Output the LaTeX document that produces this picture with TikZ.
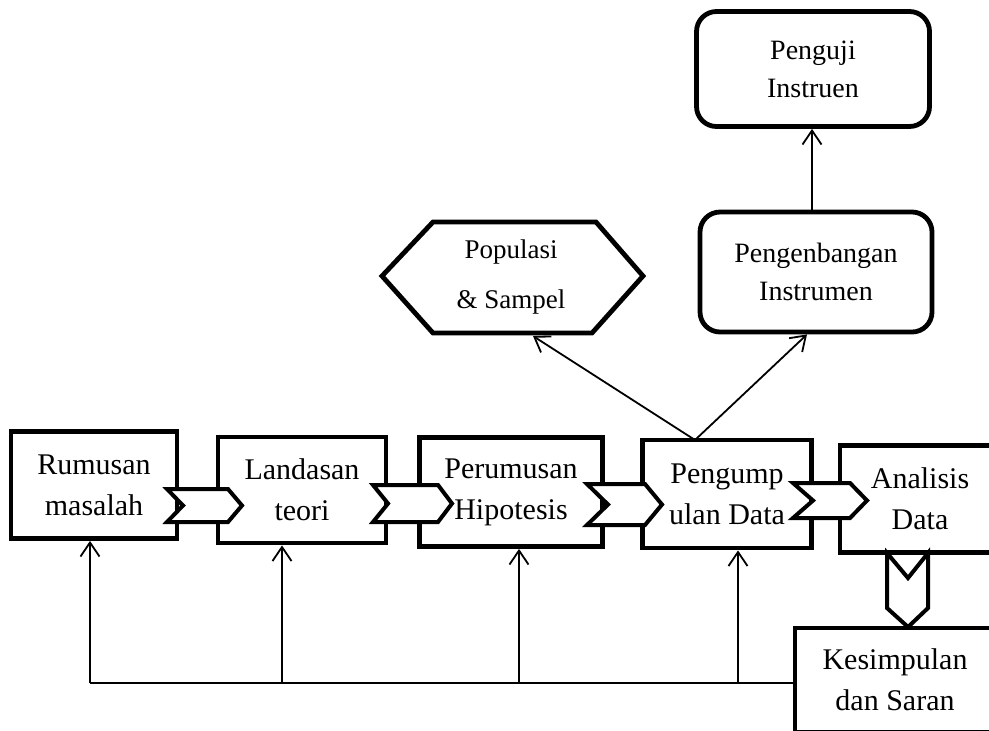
\documentclass[tikz,border=0pt]{standalone}
\usepackage{fontspec}
\setmainfont{Liberation Serif}
\usetikzlibrary{arrows.meta}

\tikzset{
  kotak/.style={draw, line width=2.4pt, align=center, font=\fontsize{15}{20.5}\selectfont},
  kotakbulat/.style={draw, line width=2.4pt, rounded corners=10pt, align=center, font=\fontsize{14}{19}\selectfont},
  panah/.style={-{Straight Barb[length=7pt,width=9.5pt]}, line width=0.9pt},
  garis/.style={line width=0.9pt},
  chevron/.style={draw, fill=white, line width=2pt, line join=miter}
}

\begin{document}
\begin{tikzpicture}[x=0.5pt, y=-0.5pt]
\useasboundingbox (0,0) rectangle (989,730);
\clip (0,0) rectangle (989,730);

% Alur utama
\node[kotak, minimum width=83pt, minimum height=53.5pt] (rumusan) at (94,485) {Rumusan\\masalah};
\node[kotak, minimum width=84pt, minimum height=53pt] (landasan) at (302,490) {Landasan\\teori};
\node[kotak, minimum width=91.5pt, minimum height=54.5pt] (perumusan) at (511,492) {Perumusan\\Hipotesis};
\node[kotak, minimum width=84.5pt, minimum height=54pt] (pengumpulan) at (727,494) {Pengump\\ulan Data};
\node[kotak, minimum width=80pt, minimum height=53.5pt] (analisis) at (920,499) {Analisis\\Data};
\node[kotak, minimum width=100pt, minimum height=52pt] (kesimpulan) at (895,680) {Kesimpulan\\dan Saran};

% Kotak atas
\node[kotakbulat, minimum width=116pt, minimum height=60pt] (pengenbangan) at (816,272) {Pengenbangan\\Instrumen};
\node[kotakbulat, minimum width=116.5pt, minimum height=57.5pt] (penguji) at (813,69) {Penguji\\Instruen};

% Segi enam populasi
\draw[line width=2.4pt, line join=miter] (382,276) -- (433,222) -- (596,222) -- (643,276) -- (592,333) -- (433,333) -- cycle;
\node[font=\fontsize{13.5}{25}\selectfont, align=center] (populasi) at (511,277) {Populasi\\\& Sampel};

% Panah ke atas
\coordinate (cabang) at (695,440);
\coordinate (hexbawah) at (533,336);
\coordinate (kanan) at (812,0);
\draw[panah] (cabang) -- (hexbawah);
\draw[panah] (cabang) -- ([xshift=-4.5pt]pengenbangan.south);
\draw[panah] (pengenbangan.north -| kanan) -- (penguji.south -| kanan);

% Umpan balik
\coordinate (b1) at (90,683);
\coordinate (b2) at (282,683);
\coordinate (b3) at (519,683);
\coordinate (b4) at (738,683);
\draw[garis] (b1) -- (kesimpulan.west |- b1);
\draw[panah] (b1) -- (b1 |- rumusan.south);
\draw[panah] (b2) -- (b2 |- landasan.south);
\draw[panah] (b3) -- (b3 |- perumusan.south);
\draw[panah] (b4) -- (b4 |- pengumpulan.south);

% Chevron antar kotak
\foreach \L/\R/\T/\B/\n/\p in {167/242/489/522/16/14, 373/452/485/522/15/14,
                               587/662/484/525/21/17, 793/867/483/518/20/17}
  \draw[chevron] (\L,\T) -- ({\R-\p},\T) -- (\R,{(\T+\B)/2}) -- ({\R-\p},\B)
    -- (\L,\B) -- ({\L+\n},{(\T+\B)/2}) -- cycle;

% Chevron ke bawah
\draw[chevron] (887,553) -- (908,578) -- (928,553) -- (928,608) -- (908,627) -- (887,608) -- cycle;

\end{tikzpicture}
\end{document}
